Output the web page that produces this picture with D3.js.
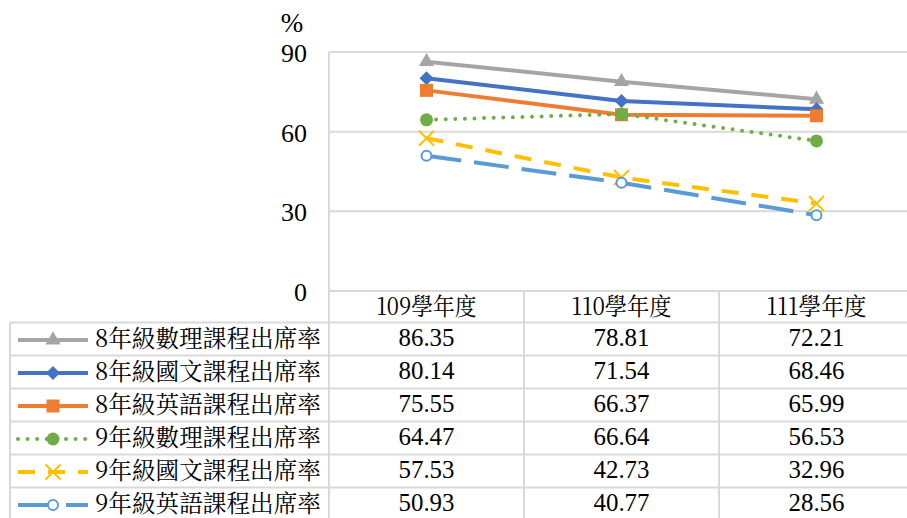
<!DOCTYPE html>
<html>
<head>
<meta charset="utf-8">
<script src="https://cdn.jsdelivr.net/npm/d3@7"></script>
<style>
  body { margin: 0; background: #fff; }
  svg { display: block; }
  .num { font-family: "Liberation Serif"; }
  .cjk { font-family: "Noto Serif CJK TC"; }
</style>
</head>
<body>
<div id="chart"></div>
<script>
// chart data
const categories = ["109學年度", "110學年度", "111學年度"];
const seriesNames = [
  "8年級數理課程出席率",
  "8年級國文課程出席率",
  "8年級英語課程出席率",
  "9年級數理課程出席率",
  "9年級國文課程出席率",
  "9年級英語課程出席率"
];
const math8 = [86.35, 78.81, 72.21];
const chinese8 = [80.14, 71.54, 68.46];
const english8 = [75.55, 66.37, 65.99];
const math9 = [64.47, 66.64, 56.53];
const chinese9 = [57.53, 42.73, 32.96];
const english9 = [50.93, 40.77, 28.56];
const yTicks = [0, 30, 60, 90];

// styling per series (kept apart from the values)
const styles = [
  {color: "#A5A5A5", dash: null, marker: "triangle"},
  {color: "#4472C4", dash: null, marker: "diamond"},
  {color: "#ED7D31", dash: null, marker: "square"},
  {color: "#70AD47", dash: "0,9.6", marker: "circle"},
  {color: "#FFC000", dash: "17,13", marker: "x"},
  {color: "#5B9BD5", dash: "35,13", marker: "ring"}
];
const allValues = [math8, chinese8, english8, math9, chinese9, english9];

const svgWidth = 907;
const svgHeight = 518;

const plotLeft = 329;
const plotTop = 52;
const plotBottom = 291;
const bandW = 195;
const headerH = 31.5;
const rowH = 33;
const tableLeft = 10;

const numFont = "Liberation Serif";
const cjkFont = "Noto Serif CJK TC";
const gridColor = "#d9d9d9";

const svg = d3.select("#chart")
  .append("svg")
  .attr("width", svgWidth)
  .attr("height", svgHeight);

// scales
const xScale = d3.scaleBand()
  .domain(categories)
  .range([plotLeft, plotLeft + bandW * categories.length])
  .padding(0);

const yScale = d3.scaleLinear()
  .domain([0, 90])
  .range([plotBottom, plotTop]);

const cx = c => xScale(c) + xScale.bandwidth() / 2;

// gridlines
svg.append("g")
  .selectAll("line")
  .data(yTicks)
  .enter()
  .append("line")
  .attr("x1", plotLeft)
  .attr("x2", xScale.range()[1])
  .attr("y1", d => yScale(d))
  .attr("y2", d => yScale(d))
  .attr("stroke", gridColor)
  .attr("stroke-width", 2);

// left border of the plot
svg.append("line")
  .attr("x1", plotLeft).attr("x2", plotLeft)
  .attr("y1", plotTop).attr("y2", plotBottom)
  .attr("stroke", gridColor)
  .attr("stroke-width", 2);

// y axis labels
const leftAxis = d3.axisLeft(yScale).tickValues(yTicks).tickSize(0).tickPadding(22);
const yAxis = svg.append("g")
  .attr("transform", `translate(${plotLeft},0)`)
  .call(leftAxis)
  .attr("font-family", numFont)
  .attr("font-size", 26);
yAxis.select(".domain").remove();
yAxis.selectAll("text")
  .classed("num", true)
  .attr("font-family", numFont)
  .attr("dy", "0.36em")
  .attr("fill", "#000");

// unit label
svg.append("text")
  .classed("num", true)
  .attr("x", 292)
  .attr("y", 32)
  .attr("text-anchor", "middle")
  .attr("font-family", numFont)
  .attr("font-size", 27)
  .text("%");

// marker symbols
function drawMarker(g, type, color, size) {
  if (type === "triangle") {
    g.append("path").attr("d", d3.symbol(d3.symbolTriangle, 100)()).attr("fill", color);
  } else if (type === "diamond") {
    g.append("path").attr("d", d3.symbol(d3.symbolDiamond2, 125)()).attr("fill", color);
  } else if (type === "square") {
    g.append("rect")
      .attr("x", -size / 2).attr("y", -size / 2)
      .attr("width", size).attr("height", size)
      .attr("fill", color);
  } else if (type === "circle") {
    g.append("circle").attr("r", size / 2).attr("fill", color);
  } else if (type === "x") {
    g.append("path")
      .attr("d", d3.symbol(d3.symbolX, 150)())
      .attr("fill", "none")
      .attr("stroke", color)
      .attr("stroke-width", 2);
  } else if (type === "ring") {
    g.append("circle")
      .attr("r", size / 2 - 1)
      .attr("fill", "#fff")
      .attr("stroke", color)
      .attr("stroke-width", 2);
  }
}

// lines + markers
const line = d3.line()
  .x((d, i) => cx(categories[i]))
  .y(d => yScale(d));

allValues.forEach((vals, s) => {
  const st = styles[s];
  const group = svg.append("g");
  group.append("path")
    .datum(vals)
    .attr("d", line)
    .attr("fill", "none")
    .attr("stroke", st.color)
    .attr("stroke-width", 4)
    .attr("stroke-linecap", st.dash && st.dash.startsWith("0") ? "round" : "butt")
    .attr("stroke-dasharray", st.dash);

  const size = st.marker === "ring" ? 12 : 13;
  vals.forEach((v, i) => {
    const m = group.append("g").attr("transform", `translate(${cx(categories[i])},${yScale(v)})`);
    drawMarker(m, st.marker, st.color, size);
  });
});

// data table
const table = svg.append("g");
const tableRight = xScale.range()[1];
const tableBottom = plotBottom + headerH + rowH * seriesNames.length;

// horizontal rules
const rowLines = [plotBottom, plotBottom + headerH];
seriesNames.forEach((n, i) => rowLines.push(plotBottom + headerH + rowH * (i + 1)));
table.selectAll(".hrule")
  .data(rowLines)
  .enter()
  .append("line")
  .attr("x1", (d, i) => i === 0 ? plotLeft : tableLeft)
  .attr("x2", tableRight)
  .attr("y1", d => d)
  .attr("y2", d => d)
  .attr("stroke", gridColor)
  .attr("stroke-width", 2);

// vertical rules
const colLines = categories.map(c => xScale(c)).concat([tableRight]);
table.selectAll(".vrule")
  .data(colLines)
  .enter()
  .append("line")
  .attr("x1", d => d)
  .attr("x2", d => d)
  .attr("y1", plotBottom)
  .attr("y2", tableBottom)
  .attr("stroke", gridColor)
  .attr("stroke-width", 2);
table.append("line")
  .attr("x1", tableLeft).attr("x2", tableLeft)
  .attr("y1", plotBottom + headerH).attr("y2", tableBottom)
  .attr("stroke", gridColor)
  .attr("stroke-width", 2);

// category headers
table.selectAll(".cat")
  .data(categories)
  .enter()
  .append("text")
  .classed("cjk", true)
  .attr("x", d => cx(d))
  .attr("y", plotBottom + 24)
  .attr("text-anchor", "middle")
  .attr("font-family", cjkFont)
  .attr("font-size", 24)
  .attr("textLength", 100)
  .attr("lengthAdjust", "spacingAndGlyphs")
  .text(d => d);

// rows: legend key, name, values
seriesNames.forEach((name, s) => {
  const st = styles[s];
  const top = plotBottom + headerH + rowH * s;
  const mid = top + rowH / 2 + 1;

  const key = table.append("g");
  key.append("line")
    .attr("x1", 18).attr("x2", 88)
    .attr("y1", mid).attr("y2", mid)
    .attr("stroke", st.color)
    .attr("stroke-width", 4)
    .attr("stroke-linecap", st.dash && st.dash.startsWith("0") ? "round" : "butt")
    .attr("stroke-dasharray", st.dash);
  const m = key.append("g").attr("transform", `translate(53,${mid})`);
  drawMarker(m, st.marker, st.color, st.marker === "ring" ? 12 : 13);

  table.append("text")
    .classed("cjk", true)
    .attr("x", 95)
    .attr("y", top + 24)
    .attr("font-family", cjkFont)
    .attr("font-size", 24)
    .attr("textLength", 226)
    .attr("lengthAdjust", "spacingAndGlyphs")
    .text(name);

  table.selectAll(null)
    .data(allValues[s])
    .enter()
    .append("text")
    .classed("num", true)
    .attr("x", (d, i) => cx(categories[i]))
    .attr("y", top + 23)
    .attr("text-anchor", "middle")
    .attr("font-family", numFont)
    .attr("font-size", 26)
    .attr("textLength", 56)
    .attr("lengthAdjust", "spacingAndGlyphs")
    .text(d => d.toFixed(2));
});
</script>
</body>
</html>
